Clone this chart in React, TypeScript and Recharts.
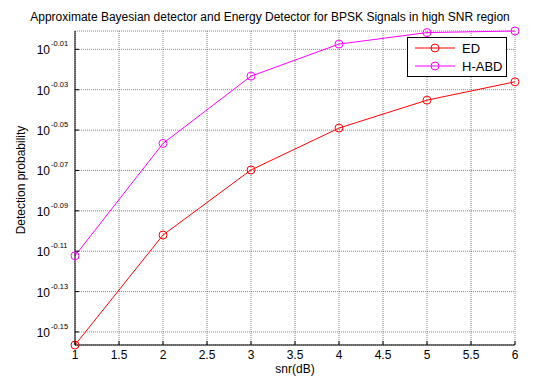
import { CartesianGrid, Line, LineChart, XAxis, YAxis } from 'recharts'

const snr = [1, 2, 3, 4, 5, 6]
const edProb = [0.6975, 0.7907, 0.8516, 0.8933, 0.9222, 0.9417]
const habdProb = [0.7722, 0.8778, 0.9478, 0.9831, 0.9961, 0.9979]
const xTicks = [1, 1.5, 2, 2.5, 3, 3.5, 4, 4.5, 5, 5.5, 6]
const yTickExponents = [-0.01, -0.03, -0.05, -0.07, -0.09, -0.11, -0.13, -0.15]

const FONT = '"Liberation Sans", Arial, sans-serif'
const TICK_GAP = 6
const TICK_LEN = 4

const data = snr.map((s, i) => ({ snr: s, ed: edProb[i], habd: habdProb[i] }))
const yTicks = yTickExponents.map((e) => Math.pow(10, e))
const yDomain = [Math.min(...edProb, ...habdProb), Math.max(...edProb, ...habdProb)]

function expLabel(v: number): string {
  return (Math.round(Math.log10(v) * 100) / 100).toFixed(2)
}

function BottomTick(props: any) {
  const { x, y, payload } = props
  return (
    <g>
      <line x1={x} x2={x} y1={y - TICK_GAP} y2={y - TICK_GAP - TICK_LEN} stroke="#000" />
      <text x={x} y={y + 8} textAnchor="middle" fontSize={12} fontFamily={FONT} fill="#000">
        {payload.value}
      </text>
    </g>
  )
}

function TopTick(props: any) {
  const { x, y } = props
  return <line x1={x} x2={x} y1={y + TICK_GAP} y2={y + TICK_GAP + TICK_LEN} stroke="#000" />
}

function LeftTick(props: any) {
  const { x, y, payload } = props
  return (
    <g>
      <line x1={x + TICK_GAP} x2={x + TICK_GAP + TICK_LEN} y1={y} y2={y} stroke="#000" />
      <text x={x - 19} y={y + 5} textAnchor="end" fontSize={12} fontFamily={FONT} fill="#000">
        10
      </text>
      <text x={x - 18} y={y - 3} textAnchor="start" fontSize={7.5} fontFamily={FONT} fill="#000">
        {expLabel(payload.value)}
      </text>
    </g>
  )
}

function RightTick(props: any) {
  const { x, y } = props
  return <line x1={x - TICK_GAP} x2={x - TICK_GAP - TICK_LEN} y1={y} y2={y} stroke="#000" />
}

const legendItems = [
  { name: 'ED', color: '#ff0000' },
  { name: 'H-ABD', color: '#ff00ff' },
]

function LegendBox() {
  return (
    <div
      style={{
        position: 'absolute',
        left: 407,
        top: 37,
        background: '#fff',
        border: '1px solid #000',
        width: 98,
        height: 36,
        padding: '1px 0',
        fontFamily: FONT,
        fontSize: 13,
      }}
    >
      {legendItems.map((it) => (
        <div key={it.name} style={{ display: 'flex', alignItems: 'center', height: 18 }}>
          <svg width={54} height={12}>
            <line x1={7} x2={47} y1={6} y2={6} stroke={it.color} />
            <circle cx={27} cy={6} r={4} stroke={it.color} fill="none" />
          </svg>
          <span>{it.name}</span>
        </div>
      ))}
    </div>
  )
}

export default function App() {
  return (
    <div style={{ position: 'absolute', left: 0, top: 0, width: 560, height: 376, background: '#fff' }}>
      <div
        style={{
          position: 'absolute',
          left: 0,
          top: 10,
          width: 540,
          textAlign: 'center',
          fontFamily: FONT,
          fontSize: 12,
          whiteSpace: 'nowrap',
        }}
      >
        Approximate Bayesian detector and Energy Detector for BPSK Signals in high SNR region
      </div>
      <div
        style={{
          position: 'absolute',
          left: 21,
          top: 180,
          transform: 'translate(-50%, -50%) rotate(-90deg)',
          fontFamily: FONT,
          fontSize: 12,
          whiteSpace: 'nowrap',
        }}
      >
        Detection probability
      </div>
      <div
        style={{
          position: 'absolute',
          left: 295,
          top: 362,
          transform: 'translateX(-50%)',
          fontFamily: FONT,
          fontSize: 12,
          lineHeight: '14px',
          whiteSpace: 'nowrap',
        }}
      >
        snr(dB)
      </div>
      <LineChart
        width={560}
        height={376}
        data={data}
        margin={{ top: 31, right: 45, bottom: 0, left: 0 }}
      >
        <CartesianGrid stroke="#555" strokeDasharray="1 1" strokeWidth={0.7} />
        <XAxis
          dataKey="snr"
          type="number"
          domain={[1, 6]}
          ticks={xTicks}
          height={31}
          tickSize={0}
          tickMargin={TICK_GAP}
          axisLine={{ stroke: '#000' }}
          tick={<BottomTick />}
        />
        <XAxis
          xAxisId="top"
          orientation="top"
          dataKey="snr"
          type="number"
          domain={[1, 6]}
          ticks={xTicks}
          height={0}
          tickSize={0}
          tickMargin={TICK_GAP}
          axisLine={{ stroke: '#000' }}
          tick={<TopTick />}
        />
        <YAxis
          type="number"
          scale="log"
          domain={yDomain}
          ticks={yTicks}
          width={75}
          tickSize={0}
          tickMargin={TICK_GAP}
          axisLine={{ stroke: '#000' }}
          tick={<LeftTick />}
        />
        <YAxis
          yAxisId="right"
          orientation="right"
          type="number"
          scale="log"
          domain={yDomain}
          ticks={yTicks}
          width={0}
          tickSize={0}
          tickMargin={TICK_GAP}
          axisLine={{ stroke: '#000' }}
          tick={<RightTick />}
        />
        <Line
          dataKey="ed"
          stroke="#ff0000"
          strokeWidth={1}
          dot={{ r: 4, stroke: '#ff0000', fill: 'none', strokeWidth: 1 }}
          isAnimationActive={false}
        />
        <Line
          dataKey="habd"
          stroke="#ff00ff"
          strokeWidth={1}
          dot={{ r: 4, stroke: '#ff00ff', fill: 'none', strokeWidth: 1 }}
          isAnimationActive={false}
        />
      </LineChart>
      <LegendBox />
    </div>
  )
}
